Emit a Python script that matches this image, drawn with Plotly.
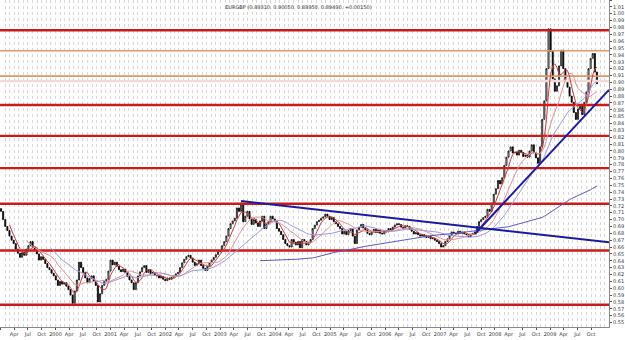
import pandas as pd
import plotly.graph_objects as go

# ---------------- data ----------------
start_date = "1999-01-04"
period_days = 14  # one candle every two weeks

closes = [
    0.712, 0.700, 0.690, 0.684, 0.676, 0.670, 0.665, 0.657, 0.651, 0.645,
    0.652, 0.648, 0.657, 0.662, 0.668, 0.660, 0.656, 0.650, 0.641, 0.646,
    0.642, 0.636, 0.630, 0.627, 0.622, 0.618, 0.612, 0.604, 0.610, 0.606,
    0.608, 0.603, 0.598, 0.590, 0.578, 0.596, 0.612, 0.638, 0.630, 0.623,
    0.615, 0.608, 0.614, 0.618, 0.610, 0.604, 0.580, 0.592, 0.604, 0.610,
    0.613, 0.625, 0.641, 0.634, 0.638, 0.632, 0.627, 0.624, 0.628, 0.623,
    0.617, 0.612, 0.608, 0.598, 0.608, 0.618, 0.624, 0.630, 0.633, 0.623,
    0.627, 0.621, 0.623, 0.619, 0.618, 0.615, 0.617, 0.613, 0.611, 0.615,
    0.613, 0.616, 0.618, 0.621, 0.623, 0.630, 0.637, 0.642, 0.646, 0.648,
    0.644, 0.638, 0.633, 0.636, 0.641, 0.633, 0.629, 0.626, 0.632, 0.637,
    0.641, 0.645, 0.649, 0.653, 0.655, 0.662, 0.668, 0.676, 0.687, 0.694,
    0.698, 0.702, 0.717, 0.712, 0.724, 0.697, 0.705, 0.712, 0.701, 0.693,
    0.700, 0.695, 0.690, 0.698, 0.705, 0.687, 0.693, 0.697, 0.705, 0.701,
    0.697, 0.687, 0.683, 0.678, 0.671, 0.665, 0.662, 0.660, 0.671, 0.667,
    0.663, 0.668, 0.659, 0.671, 0.668, 0.663, 0.667, 0.671, 0.687, 0.692,
    0.697, 0.699, 0.702, 0.704, 0.708, 0.705, 0.700, 0.703, 0.697, 0.694,
    0.690, 0.687, 0.679, 0.683, 0.678, 0.684, 0.687, 0.676, 0.665, 0.685,
    0.689, 0.693, 0.688, 0.685, 0.680, 0.678, 0.682, 0.686, 0.681, 0.685,
    0.680, 0.679, 0.684, 0.682, 0.687, 0.685, 0.689, 0.692, 0.694, 0.693,
    0.689, 0.687, 0.691, 0.690, 0.686, 0.683, 0.679, 0.681, 0.678, 0.676,
    0.678, 0.675, 0.674, 0.676, 0.672, 0.673, 0.670, 0.668, 0.665, 0.660,
    0.662, 0.668, 0.672, 0.677, 0.682, 0.680, 0.679, 0.683, 0.680, 0.682,
    0.679, 0.678, 0.675, 0.678, 0.680, 0.682, 0.690, 0.697, 0.700, 0.703,
    0.705, 0.715, 0.712, 0.724, 0.737, 0.745, 0.757, 0.752, 0.761, 0.779,
    0.791, 0.800, 0.806, 0.797, 0.798, 0.794, 0.801, 0.798, 0.792, 0.794,
    0.791, 0.800, 0.809, 0.797, 0.790, 0.782, 0.806, 0.846, 0.873, 0.920,
    0.978, 0.945, 0.905, 0.887, 0.895, 0.924, 0.947, 0.920, 0.902, 0.893,
    0.880, 0.871, 0.856, 0.846, 0.861, 0.865, 0.853, 0.871, 0.886, 0.920,
    0.935, 0.942, 0.915, 0.898,
]
first_open = 0.716

# moving-average windows (in candles) and their colours
ma_windows = [5, 13, 25, 124]
ma_colors = ["#d23a3a", "#e89090", "#9a9ae6", "#5a5acc"]

# horizontal support / resistance levels
red_levels = [0.976, 0.867, 0.822, 0.775, 0.723, 0.655, 0.576]
orange_levels = [0.946, 0.909]
faint_levels = [0.902]

# trend lines: (start date, start price, end date, end price)
trend_lines = [
    ("2003-05-19", 0.727, "2010-01-28", 0.667),
    ("2007-08-20", 0.679, "2010-01-28", 0.889),
]

x_range = ["1998-12-28", "2010-01-28"]
y_range = [0.5435, 1.020]
title_text = "EURGBP (0.89310, 0.90050, 0.88950, 0.89490, +0.00150)"

# ---------------- build ----------------
dates = pd.date_range(start_date, periods=len(closes), freq=f"{period_days}D")
opens = [first_open] + closes[:-1]
highs = [max(o, c) for o, c in zip(opens, closes)]
lows = [min(o, c) for o, c in zip(opens, closes)]
s = pd.Series(closes, index=dates)

fig = go.Figure()

# vertical dotted monthly grid
grid_dates = pd.date_range("1999-01-01", "2010-01-01", freq="MS")


def level_line(lv, color, width):
    fig.add_trace(go.Scatter(x=x_range, y=[lv, lv], mode="lines",
                             line=dict(color=color, width=width),
                             showlegend=False, hoverinfo="skip"))


for lv in faint_levels:
    level_line(lv, "#f3dcd6", 2.5)
for lv in orange_levels:
    level_line(lv, "#e0956a", 1.6)
for lv in red_levels:
    level_line(lv, "#cc1a1a", 2.4)

fig.add_trace(go.Candlestick(
    x=dates, open=opens, high=highs, low=lows, close=closes,
    increasing=dict(line=dict(color="#000000", width=0.8), fillcolor="#ffffff"),
    decreasing=dict(line=dict(color="#000000", width=0.8), fillcolor="#000000"),
    whiskerwidth=0, showlegend=False, hoverinfo="skip",
))

for w, col in zip(ma_windows, ma_colors):
    ma = s.rolling(w).mean()
    fig.add_trace(go.Scatter(x=ma.index, y=ma.values, mode="lines",
                             line=dict(color=col, width=1), showlegend=False,
                             hoverinfo="skip"))

for (d0, p0, d1, p1) in trend_lines:
    fig.add_trace(go.Scatter(x=[d0, d1], y=[p0, p1], mode="lines",
                             line=dict(color="#1a1aa0", width=2), showlegend=False,
                             hoverinfo="skip"))

# x tick labels every quarter
tick_dates = pd.date_range("1999-01-01", "2009-10-01", freq="3MS")
tick_text = [d.strftime("%Y") if d.month == 1 else d.strftime("%b") for d in tick_dates]

fig.update_layout(
    width=625, height=340,
    margin=dict(l=0, r=16, t=0, b=13),
    paper_bgcolor="white", plot_bgcolor="white",
    font=dict(family="DejaVu Sans", size=5, color="#333333"),
    title=dict(text=title_text, x=0.49, xref="paper", y=0.985, yref="container",
               xanchor="center", yanchor="top",
               font=dict(size=5, color="#333333", family="DejaVu Sans")),
    xaxis=dict(
        type="date", range=x_range, rangeslider=dict(visible=False),
        tickmode="array", tickvals=tick_dates, ticktext=tick_text,
        tickangle=0, tickfont=dict(size=5), ticks="outside", ticklen=2, tickcolor="#555",
        showgrid=False, showline=True, linecolor="#888", linewidth=1,
        minor=dict(tickmode="array", tickvals=grid_dates, showgrid=True,
                   gridcolor="#d8d8d8", griddash="dot", gridwidth=1, ticks=""),
        zeroline=False, fixedrange=True,
    ),
    yaxis=dict(
        side="right", range=y_range, dtick=0.01, tick0=0.5, tickformat=".2f",
        tickfont=dict(size=5), ticks="outside", ticklen=2, tickcolor="#555",
        showgrid=False, showline=True, linecolor="#888", linewidth=1,
        zeroline=False, fixedrange=True,
    ),
)

fig.write_html("out.html")
